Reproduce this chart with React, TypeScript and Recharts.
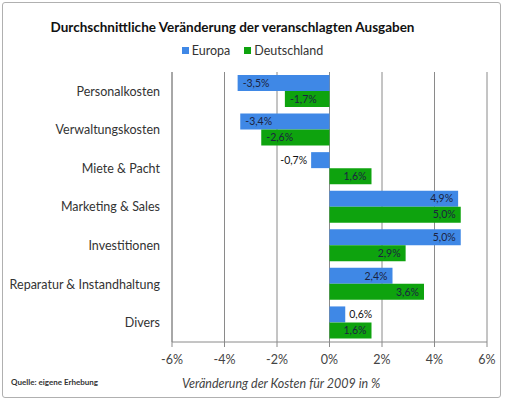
import React from 'react';
import { BarChart, Bar, XAxis, YAxis, CartesianGrid, Legend, LabelList } from 'recharts';

const categories = [
  'Personalkosten',
  'Verwaltungskosten',
  'Miete & Pacht',
  'Marketing & Sales',
  'Investitionen',
  'Reparatur & Instandhaltung',
  'Divers',
];
const europa = [-3.5, -3.4, -0.7, 4.9, 5.0, 2.4, 0.6];
const deutschland = [-1.7, -2.6, 1.6, 5.0, 2.9, 3.6, 1.6];
const xTicks = [-6, -4, -2, 0, 2, 4, 6];

const data = categories.map((name, i) => ({ name, europa: europa[i], deutschland: deutschland[i] }));

const FONT = 'Lato, "Open Sans", sans-serif';
const BLUE = '#3f88e6';
const GREEN = '#0ea30e';

const fmt = (v: number) => v.toFixed(1).replace('.', ',') + '%';

const renderLabel = (props: any) => {
  const { x, y, width, height, value } = props;
  const v = Number(value);
  const left = Math.min(x, x + width);
  const right = Math.max(x, x + width);
  const cy = y + height / 2;
  const small = Math.abs(v) < 1;
  let tx: number;
  let anchor: 'start' | 'end';
  if (v >= 0) {
    if (small) { tx = right + 4; anchor = 'start'; } else { tx = right - 5; anchor = 'end'; }
  } else {
    if (small) { tx = left - 4; anchor = 'end'; } else { tx = left + 5; anchor = 'start'; }
  }
  return (
    <text x={tx} y={cy} dy="0.35em" textAnchor={anchor} fontSize={10.5} fontFamily={FONT}
      fill={small ? '#111' : '#1c2340'}>
      {fmt(v)}
    </text>
  );
};

const CategoryTick = (props: any) => {
  const { x, y, payload } = props;
  return (
    <text x={x} y={y} dy="0.35em" textAnchor="end" fontSize={12.5} fontFamily={FONT} fill="#333">
      {payload.value}
    </text>
  );
};

const renderLegend = () => (
  <div style={{ display: 'flex', justifyContent: 'center', fontFamily: FONT, fontSize: 12.5, color: '#333' }}>
    <span style={{ display: 'flex', alignItems: 'center', marginRight: 14 }}>
      <span style={{ width: 7, height: 7, background: BLUE, display: 'inline-block', marginRight: 3 }} />
      Europa
    </span>
    <span style={{ display: 'flex', alignItems: 'center' }}>
      <span style={{ width: 7, height: 7, background: GREEN, display: 'inline-block', marginRight: 3 }} />
      Deutschland
    </span>
  </div>
);

export default function App() {
  return (
    <div style={{ position: 'absolute', left: 0, top: 0, width: 505, height: 400, background: '#fff' }}>
      <div style={{ position: 'absolute', left: 2, top: 2, width: 497, height: 394, border: '1px solid #b0b0b0', borderRadius: 3 }} />
      <div style={{ position: 'absolute', left: 0, top: 19, width: 465, textAlign: 'center', fontFamily: FONT, fontWeight: 700, fontSize: 13.5, color: '#111' }}>
        Durchschnittliche Veränderung der veranschlagten Ausgaben
      </div>
      <BarChart
        width={505}
        height={400}
        data={data}
        layout="vertical"
        margin={{ top: 52, right: 18, bottom: 28, left: 0 }}
        barGap={0}
        barCategoryGap={3}
        style={{ position: 'absolute', left: 0, top: 0 }}
      >
        <Legend verticalAlign="top" align="center" content={renderLegend} wrapperStyle={{ top: 43, left: 0, width: 505, height: 20 }} />
        <CartesianGrid horizontal={false} vertical stroke="#8a8a8a" strokeWidth={1} />
        <XAxis
          type="number"
          domain={[-6, 6]}
          ticks={xTicks}
          tickFormatter={(v: number) => `${v}%`}
          stroke="#8a8a8a"
          tickSize={5}
          tickMargin={8}
          tick={{ fill: '#444', fontSize: 12.5, fontFamily: FONT }}
          height={30}
        />
        <YAxis
          type="category"
          dataKey="name"
          width={172}
          stroke="#8a8a8a"
          tickLine={false}
          tickSize={0}
          tickMargin={12}
          tick={<CategoryTick />}
        />
        <Bar dataKey="europa" name="Europa" fill={BLUE} barSize={16} isAnimationActive={false}>
          <LabelList dataKey="europa" content={renderLabel} />
        </Bar>
        <Bar dataKey="deutschland" name="Deutschland" fill={GREEN} barSize={16} isAnimationActive={false}>
          <LabelList dataKey="deutschland" content={renderLabel} />
        </Bar>
      </BarChart>
      <div style={{ position: 'absolute', left: 11, top: 377, fontFamily: FONT, fontSize: 8, fontWeight: 700, color: '#333' }}>
        Quelle: eigene Erhebung
      </div>
      <div style={{ position: 'absolute', left: 182, top: 376, fontFamily: FONT, fontSize: 12.5, fontStyle: 'italic', color: '#444' }}>
        Veränderung der Kosten für 2009 in %
      </div>
    </div>
  );
}
